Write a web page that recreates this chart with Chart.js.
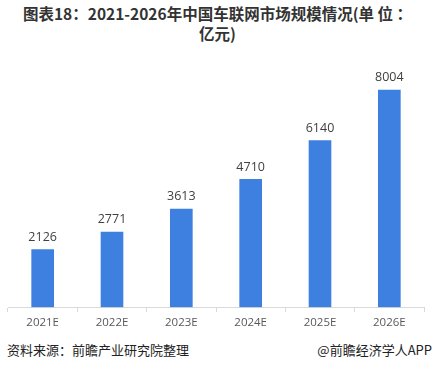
<!DOCTYPE html>
<html>
<head>
<meta charset="utf-8">
<script src="https://cdn.jsdelivr.net/npm/chart.js@4/dist/chart.umd.min.js"></script>
<style>
  body { margin: 0; background: #fff; width: 435px; height: 369px; position: relative; overflow: hidden; font-family: "Noto Sans CJK SC", sans-serif; }
  #title { position: absolute; left: 0; top: 3px; width: 435px; text-align: center; font-weight: bold; font-size: 15.5px; line-height: 20px; color: #333; }
  #wrap { position: absolute; left: 0; top: 0; width: 435px; height: 334px; }
  .foot { position: absolute; top: 340px; font-size: 13px; color: #222; }
</style>
</head>
<body>
<div id="title">图表18：2021-2026年中国车联网市场规模情况(单 位 ：<br>亿元)</div>
<div id="wrap"><canvas id="myChart"></canvas></div>
<div class="foot" style="left:7px">资料来源：前瞻产业研究院整理</div>
<div class="foot" style="right:3px">@前瞻经济学人APP</div>
<script>
  var years = ["2021E", "2022E", "2023E", "2024E", "2025E", "2026E"];
  var marketSize = [2126, 2771, 3613, 4710, 6140, 8004];

  // value labels above each bar
  var barLabels = {
    id: "barLabels",
    afterDatasetsDraw: function (chart) {
      var ctx = chart.ctx;
      var meta = chart.getDatasetMeta(0);
      ctx.save();
      ctx.font = "12.5px 'Open Sans', 'DejaVu Sans', sans-serif";
      ctx.fillStyle = "#404040";
      ctx.textAlign = "center";
      ctx.textBaseline = "bottom";
      meta.data.forEach(function (bar, i) {
        ctx.fillText(marketSize[i], bar.x, bar.y - 6);
      });
      ctx.restore();
    }
  };

  new Chart("myChart", {
    type: "bar",
    data: {
      labels: years,
      datasets: [{
        data: marketSize,
        backgroundColor: "#3e80e0",
        barThickness: 22
      }]
    },
    options: {
      responsive: true,
      maintainAspectRatio: false,
      animation: false,
      layout: { padding: { left: 8, right: 11, top: 63, bottom: 0 } },
      plugins: { legend: { display: false }, tooltip: { enabled: false } },
      scales: {
        x: {
          grid: { drawOnChartArea: false, color: "#d9d9d9", tickLength: 5, offset: true },
          border: { color: "#d9d9d9" },
          ticks: { color: "#595959", font: { size: 11.5, family: "'Open Sans', 'DejaVu Sans', sans-serif" }, padding: 4 }
        },
        y: {
          display: false,
          min: 0,
          max: 9000
        }
      }
    },
    plugins: [barLabels]
  });
</script>
</body>
</html>
